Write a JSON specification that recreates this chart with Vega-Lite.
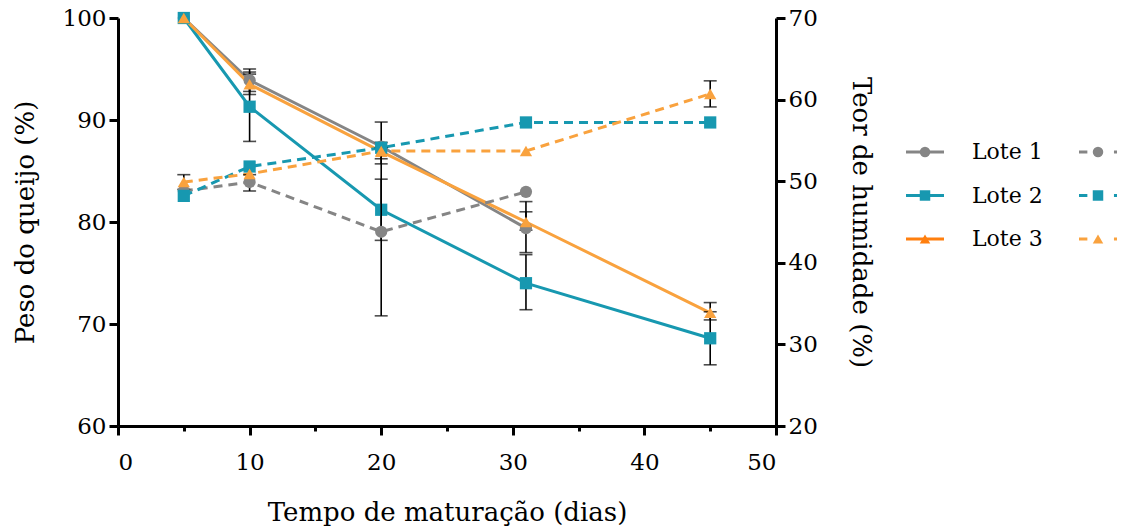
{
  "$schema": "https://vega.github.io/schema/vega-lite/v6.json",
  "background": "white",
  "padding": {"left": 12, "top": 7, "right": 5, "bottom": 5},
  "config": {
    "font": "DejaVu Serif",
    "view": {"stroke": null},
    "axis": {"domainColor": "black", "domainWidth": 3, "tickColor": "black", "tickWidth": 3, "tickSize": 9, "labelColor": "black", "labelFont": "DejaVu Serif", "labelFontSize": 23, "titleFont": "DejaVu Serif", "titleFontSize": 26, "titleFontWeight": "normal", "titleColor": "black", "grid": false, "labelPadding": 3},
    "concat": {"spacing": 0}
  },
  "datasets": {
    "d": [
      {"t": 5, "lote": "Lote 1", "m": "Peso", "v": 100, "lo": null, "hi": null},
      {"t": 10, "lote": "Lote 1", "m": "Peso", "v": 93.9, "lo": 92.8, "hi": 95.0},
      {"t": 20, "lote": "Lote 1", "m": "Peso", "v": 87.4, "lo": 85.7, "hi": 89.8},
      {"t": 31, "lote": "Lote 1", "m": "Peso", "v": 79.4, "lo": 77.0, "hi": 82.0},
      {"t": 5, "lote": "Lote 2", "m": "Peso", "v": 100, "lo": null, "hi": null},
      {"t": 10, "lote": "Lote 2", "m": "Peso", "v": 91.3, "lo": 87.9, "hi": 94.7},
      {"t": 20, "lote": "Lote 2", "m": "Peso", "v": 81.2, "lo": 78.2, "hi": 84.2},
      {"t": 31, "lote": "Lote 2", "m": "Peso", "v": 74.0, "lo": 71.4, "hi": 76.8},
      {"t": 45, "lote": "Lote 2", "m": "Peso", "v": 68.6, "lo": 66.0, "hi": 71.2},
      {"t": 5, "lote": "Lote 3", "m": "Peso", "v": 100, "lo": null, "hi": null},
      {"t": 10, "lote": "Lote 3", "m": "Peso", "v": 93.5, "lo": 92.5, "hi": 94.5},
      {"t": 20, "lote": "Lote 3", "m": "Peso", "v": 86.9, "lo": 86.2, "hi": 87.8},
      {"t": 31, "lote": "Lote 3", "m": "Peso", "v": 80.0, "lo": 79.2, "hi": 81.0},
      {"t": 45, "lote": "Lote 3", "m": "Peso", "v": 71.1, "lo": 70.4, "hi": 72.1},
      {"t": 5, "lote": "Lote 1", "m": "Humidade", "v": 48.8, "lo": null, "hi": null},
      {"t": 10, "lote": "Lote 1", "m": "Humidade", "v": 49.9, "lo": 48.8, "hi": 50.8},
      {"t": 20, "lote": "Lote 1", "m": "Humidade", "v": 43.8, "lo": 33.5, "hi": 54.1},
      {"t": 31, "lote": "Lote 1", "m": "Humidade", "v": 48.7, "lo": null, "hi": null},
      {"t": 5, "lote": "Lote 2", "m": "Humidade", "v": 48.2, "lo": null, "hi": null},
      {"t": 10, "lote": "Lote 2", "m": "Humidade", "v": 51.8, "lo": null, "hi": null},
      {"t": 20, "lote": "Lote 2", "m": "Humidade", "v": 54.1, "lo": null, "hi": null},
      {"t": 31, "lote": "Lote 2", "m": "Humidade", "v": 57.2, "lo": null, "hi": null},
      {"t": 45, "lote": "Lote 2", "m": "Humidade", "v": 57.2, "lo": null, "hi": null},
      {"t": 5, "lote": "Lote 3", "m": "Humidade", "v": 49.9, "lo": 49.0, "hi": 50.8},
      {"t": 10, "lote": "Lote 3", "m": "Humidade", "v": 50.9, "lo": null, "hi": null},
      {"t": 20, "lote": "Lote 3", "m": "Humidade", "v": 53.7, "lo": null, "hi": null},
      {"t": 31, "lote": "Lote 3", "m": "Humidade", "v": 53.7, "lo": null, "hi": null},
      {"t": 45, "lote": "Lote 3", "m": "Humidade", "v": 60.7, "lo": 59.1, "hi": 62.3}
    ],
    "leg": [
      {"lote": "Lote 1", "col": "Peso"},
      {"lote": "Lote 1", "col": "Humidade"},
      {"lote": "Lote 2", "col": "Peso"},
      {"lote": "Lote 2", "col": "Humidade"},
      {"lote": "Lote 3", "col": "Peso"},
      {"lote": "Lote 3", "col": "Humidade"}
    ]
  },
  "hconcat": [
    {
      "width": 658,
      "height": 408,
      "data": {"name": "d"},
      "encoding": {
        "x": {"field": "t", "type": "quantitative", "scale": {"domain": [0, 50], "nice": false},
          "axis": {"title": "Tempo de maturação (dias)", "values": [0, 5, 10, 15, 20, 25, 30, 35, 40, 45, 50], "labelExpr": "datum.value % 10 == 0 ? datum.label : ''", "tickSize": {"condition": {"test": "datum.value % 10 != 0", "value": 5}, "value": 9}, "titlePadding": 25, "labelPadding": 16}}
      },
      "layer": [
        {
          "transform": [{"filter": "datum.m == 'Peso'"}],
          "layer": [
            {
              "mark": {"type": "line", "strokeWidth": 3},
              "encoding": {
                "y": {"field": "v", "type": "quantitative", "scale": {"domain": [60, 100], "nice": false}, "axis": {"title": "Peso do queijo (%)", "values": [60, 70, 80, 90, 100], "orient": "left", "titlePadding": 24}},
                "color": {"field": "lote", "type": "nominal", "scale": {"domain": ["Lote 1", "Lote 2", "Lote 3"], "range": ["#858585", "#1798b0", "#f9a23e"]}, "legend": null}
              }
            },
            {
              "transform": [{"filter": "datum.lo != null"}],
              "mark": {"type": "errorbar", "ticks": true, "color": "black", "thickness": 1.6, "size": 13},
              "encoding": {
                "y": {"field": "lo", "type": "quantitative", "scale": {"domain": [60, 100], "nice": false}, "title": "Peso do queijo (%)"},
                "y2": {"field": "hi"}
              }
            },
            {
              "mark": {"type": "point", "filled": true, "opacity": 1, "size": 150},
              "encoding": {
                "y": {"field": "v", "type": "quantitative", "scale": {"domain": [60, 100], "nice": false}, "title": "Peso do queijo (%)"},
                "color": {"field": "lote", "type": "nominal", "legend": null},
                "shape": {"field": "lote", "type": "nominal", "scale": {"domain": ["Lote 1", "Lote 2", "Lote 3"], "range": ["circle", "square", "triangle-up"]}, "legend": null}
              }
            }
          ]
        },
        {
          "transform": [{"filter": "datum.m == 'Humidade'"}],
          "layer": [
            {
              "mark": {"type": "line", "strokeWidth": 3, "strokeDash": [9, 6]},
              "encoding": {
                "y": {"field": "v", "type": "quantitative", "scale": {"domain": [20, 70], "nice": false}, "axis": {"title": "Teor de humidade (%)", "values": [20, 30, 40, 50, 60, 70], "orient": "right", "titlePadding": 30}},
                "color": {"field": "lote", "type": "nominal", "legend": null}
              }
            },
            {
              "transform": [{"filter": "datum.lo != null"}],
              "mark": {"type": "errorbar", "ticks": true, "color": "black", "thickness": 1.6, "size": 13},
              "encoding": {
                "y": {"field": "lo", "type": "quantitative", "scale": {"domain": [20, 70], "nice": false}, "title": "Teor de humidade (%)"},
                "y2": {"field": "hi"}
              }
            },
            {
              "mark": {"type": "point", "filled": true, "opacity": 1, "size": 150},
              "encoding": {
                "y": {"field": "v", "type": "quantitative", "scale": {"domain": [20, 70], "nice": false}, "title": "Teor de humidade (%)"},
                "color": {"field": "lote", "type": "nominal", "legend": null},
                "shape": {"field": "lote", "type": "nominal", "legend": null}
              }
            }
          ]
        }
      ],
      "resolve": {"scale": {"y": "independent"}}
    },
    {
      "width": 240,
      "height": 260,
      "data": {"name": "leg"},
      "encoding": {
        "x": {"field": "col", "type": "nominal", "scale": {"type": "point", "padding": 0, "domain": ["Peso", "Humidade"], "range": [51, 224]}, "axis": null},
        "y": {"field": "lote", "type": "nominal", "scale": {"type": "point", "padding": 0, "domain": ["Lote 1", "Lote 2", "Lote 3"], "range": [134, 221]}, "axis": null}
      },
      "layer": [
        {
          "transform": [{"filter": "datum.col == 'Peso'"}],
          "encoding": {
            "color": {"field": "lote", "type": "nominal", "scale": {"domain": ["Lote 1", "Lote 2", "Lote 3"], "range": ["#858585", "#1798b0", "#ff7f0e"]}, "legend": null}
          },
          "layer": [
            {"mark": {"type": "point", "shape": "M-1,0H1", "filled": false, "strokeWidth": 3, "size": 1444, "opacity": 1}},
            {
              "mark": {"type": "point", "filled": true, "opacity": 1, "size": 110},
              "encoding": {"shape": {"field": "lote", "type": "nominal", "scale": {"domain": ["Lote 1", "Lote 2", "Lote 3"], "range": ["circle", "square", "triangle-up"]}, "legend": null}}
            }
          ]
        },
        {
          "transform": [{"filter": "datum.col == 'Humidade'"}],
          "encoding": {
            "color": {"field": "lote", "type": "nominal", "scale": {"domain": ["Lote 1", "Lote 2", "Lote 3"], "range": ["#858585", "#1798b0", "#f9a23e"]}, "legend": null}
          },
          "layer": [
            {"mark": {"type": "point", "shape": "M-1,0H-0.56M0.84,0H1", "filled": false, "strokeWidth": 3, "size": 1444, "opacity": 1}},
            {
              "mark": {"type": "point", "filled": true, "opacity": 1, "size": 110},
              "encoding": {"shape": {"field": "lote", "type": "nominal", "scale": {"domain": ["Lote 1", "Lote 2", "Lote 3"], "range": ["circle", "square", "triangle-up"]}, "legend": null}}
            }
          ]
        },
        {
          "transform": [{"filter": "datum.col == 'Peso'"}],
          "mark": {"type": "text", "align": "left", "baseline": "middle", "dx": 47, "fontSize": 22, "font": "DejaVu Serif", "color": "black"},
          "encoding": {"text": {"field": "lote", "type": "nominal"}}
        }
      ],
      "resolve": {"scale": {"color": "independent"}}
    }
  ]
}
